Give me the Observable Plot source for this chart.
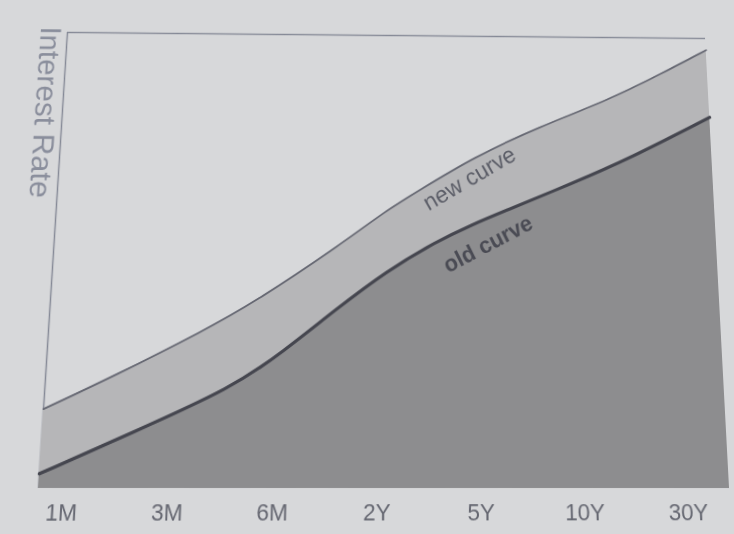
<!DOCTYPE html>
<html>
<head>
<meta charset="utf-8">
<script src="https://cdn.jsdelivr.net/npm/d3@7"></script>
<script src="https://cdn.jsdelivr.net/npm/@observablehq/plot@0.6"></script>
<style>
  html, body { margin: 0; padding: 0; width: 734px; height: 534px; overflow: hidden; background: #d7d8da; }
  #chart { position: absolute; left: 0; top: 0; width: 734px; height: 534px; }
  #chart svg { display: block; transform-origin: 0 0; filter: blur(0.6px); }
</style>
</head>
<body>
<div id="chart"></div>
<script>
// ---- data ----
const tenors = ["1M", "3M", "6M", "2Y", "5Y", "10Y", "30Y"];
const tenorPos = [0, 1, 2, 3, 4, 5, 6];

// new curve: position along tenor axis, rate (relative units)
const newCurveX    = [-0.23, 0.43, 1.30, 1.76, 2.57, 3.07, 3.42, 3.96, 4.64, 5.33, 5.93, 6.41];
const newCurveRate = [16.3, 23.2, 33.1, 38.9, 51.0, 59.4, 64.2, 71.6, 78.8, 84.8, 91.5, 97.2];

// old curve
const oldCurveX    = [-0.23, 0.63, 1.58, 2.07, 2.58, 3.08, 3.58, 3.95, 4.25, 4.97, 5.55, 6.41];
const oldCurveRate = [3.0, 11.4, 20.8, 28.5, 37.6, 46.0, 52.6, 56.5, 59.3, 65.9, 71.5, 81.3];

// in-chart labels
const labelText  = ["new curve", "old curve"];
const labelX     = [3.92, 4.10];
const labelRate  = [66.8, 52.1];

const yTitle = "Interest Rate";

// ---- build ----
const newData = newCurveX.map((x, i) => ({ tenor: x, rate: newCurveRate[i] }));
const oldData = oldCurveX.map((x, i) => ({ tenor: x, rate: oldCurveRate[i] }));
const xDomain = [newCurveX[0], newCurveX[newCurveX.length - 1]];

const svg = Plot.plot({
  width: 734,
  height: 534,
  marginLeft: 38,
  marginRight: 4,
  marginTop: 32,
  marginBottom: 46,
  style: { background: "transparent", fontFamily: "'Liberation Sans', Arial, sans-serif", overflow: "visible" },
  x: { domain: xDomain, axis: null },
  y: { domain: [0, 100], axis: null },
  marks: [
    Plot.ruleY([100], { stroke: "#868a97", strokeWidth: 1.5 }),
    Plot.ruleX([xDomain[0]], { stroke: "#868a97", strokeWidth: 1.5 }),
    Plot.areaY(newData, { x: "tenor", y: "rate", fill: "#b6b6b8", curve: "basis" }),
    Plot.areaY(oldData, { x: "tenor", y: "rate", fill: "#8d8d8f", curve: "basis" }),
    Plot.line(newData, { x: "tenor", y: "rate", stroke: "#656772", strokeWidth: 1.8, curve: "basis" }),
    Plot.line(oldData, { x: "tenor", y: "rate", stroke: "#45464f", strokeWidth: 3.2, curve: "basis" }),
    Plot.axisX(tenorPos, {
      tickSize: 0, tickPadding: 14, fontSize: 22.5, color: "#656771",
      stroke: "#656771", strokeWidth: 0.4,
      tickFormat: (i) => tenors[i], label: null
    }),
    Plot.text([0], {
      x: () => labelX[0], y: () => labelRate[0], text: () => labelText[0],
      rotate: -30, fontSize: 24, fill: "#5c5e68"
    }),
    Plot.text([1], {
      x: () => labelX[1], y: () => labelRate[1], text: () => labelText[1],
      rotate: -27, fontSize: 23, fontWeight: "bold", fill: "#4a4b54"
    }),
    Plot.text([yTitle], {
      frameAnchor: "top-left", dx: -18.5, dy: 84, rotate: 90,
      fontSize: 31.5, fill: "#8a8e9c", textAnchor: "middle", lineAnchor: "middle"
    })
  ]
});
document.getElementById("chart").appendChild(svg);

// ---- photo perspective (keystone) of the printed chart ----
const flatCorners  = [[38, 32], [730, 32], [38, 488], [730, 488]];
const photoCorners = [[67, 32], [705, 38], [38, 488], [729, 488]];
function homography(src, dst) {
  const A = [], b = [];
  for (let i = 0; i < 4; i++) {
    const [x, y] = src[i], [X, Y] = dst[i];
    A.push([x, y, 1, 0, 0, 0, -x * X, -y * X]); b.push(X);
    A.push([0, 0, 0, x, y, 1, -x * Y, -y * Y]); b.push(Y);
  }
  const n = 8;
  for (let c = 0; c < n; c++) {
    let p = c;
    for (let r = c + 1; r < n; r++) if (Math.abs(A[r][c]) > Math.abs(A[p][c])) p = r;
    [A[c], A[p]] = [A[p], A[c]]; [b[c], b[p]] = [b[p], b[c]];
    for (let r = 0; r < n; r++) {
      if (r === c) continue;
      const f = A[r][c] / A[c][c];
      for (let k = c; k < n; k++) A[r][k] -= f * A[c][k];
      b[r] -= f * b[c];
    }
  }
  return b.map((v, i) => v / A[i][i]);
}
const h = homography(flatCorners, photoCorners);
svg.style.transform = `matrix3d(${h[0]},${h[3]},0,${h[6]},${h[1]},${h[4]},0,${h[7]},0,0,1,0,${h[2]},${h[5]},0,1)`;
</script>
</body>
</html>
